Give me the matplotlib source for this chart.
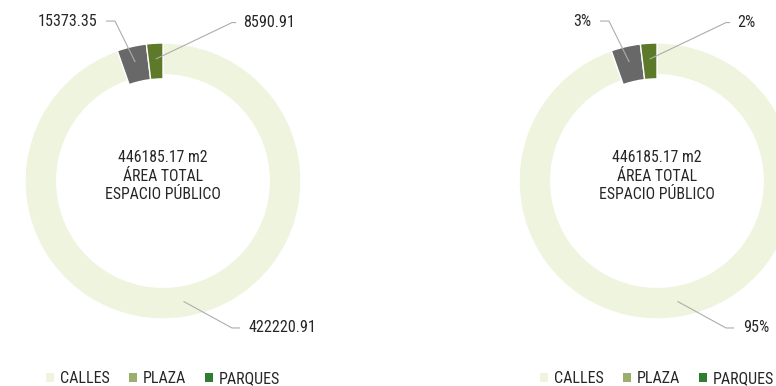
import matplotlib
matplotlib.use("Agg")
import matplotlib.pyplot as plt
from matplotlib import font_manager
from matplotlib.patches import Patch
import numpy as np

# Superficie de espacio público por tipo (m2)
categorias = ["CALLES", "PLAZA", "PARQUES"]
areas = [422220.91, 15373.35, 8590.91]
total_area = 446185.17

colores_anillo = ["#EEF4DD", "#686868", "#5C7A29"]
colores_leyenda = ["#EEF4DD", "#9BAE6B", "#2E7D32"]

TEXT_COLOR = "#262626"
LINE_COLOR = "#ADADAD"

# narrow face, first one found
_names = {f.name for f in font_manager.fontManager.ttflist}
FONT = dict(family="DejaVu Sans", stretch="condensed")
for _fam in ["Liberation Sans Narrow", "Arial Narrow", "Roboto Condensed",
             "Archivo Narrow", "PT Sans Narrow"]:
    if _fam in _names:
        FONT = dict(family=_fam)
        break

W, H = 776, 386
R_PX = 138

# leader geometry per slice, in ring radii: bend x, bend y, run end x, text x
LEADERS = [(0.50, -1.065, 0.558, 0.623),
           (-0.348, 1.159, -0.413, -0.478),
           (0.50, 1.148, 0.53, 0.58)]

fig = plt.figure(figsize=(W / 100, H / 100), dpi=100)
fig.patch.set_facecolor("white")


def donut(cx, cy, etiquetas):
    ax = fig.add_axes([(cx - R_PX) / W, (H - cy - R_PX) / H,
                       2 * R_PX / W, 2 * R_PX / H])
    wedges, _ = ax.pie(areas, colors=colores_anillo, startangle=90,
                       counterclock=False, radius=1.0,
                       wedgeprops=dict(width=0.23, edgecolor="white",
                                       linewidth=1.0))
    # small slices sit a bit deeper into the ring
    for w in wedges[1:]:
        w.set_width(0.26)
    ax.set_xlim(-1, 1)
    ax.set_ylim(-1, 1)
    ax.set_aspect("equal")
    ax.axis("off")

    for w, txt, (bx, by, ex, tx) in zip(wedges, etiquetas, LEADERS):
        ang = np.deg2rad((w.theta1 + w.theta2) / 2)
        sx, sy = 0.885 * np.cos(ang), 0.885 * np.sin(ang)
        ax.plot([sx, bx, ex], [sy, by, by], color=LINE_COLOR, lw=0.8,
                clip_on=False, solid_capstyle="butt")
        ax.text(tx, by, txt, ha="left" if tx > 0 else "right",
                va="center", fontsize=11.6, color=TEXT_COLOR, **FONT)

    ax.text(0, 0.035, f"{total_area:.2f} m2\nÁREA TOTAL\nESPACIO PÚBLICO",
            ha="center", va="center", fontsize=11.3, color=TEXT_COLOR,
            linespacing=1.3, **FONT)

    handles = [Patch(facecolor=c, edgecolor="none") for c in colores_leyenda]
    ax.legend(handles, categorias, loc="center", bbox_to_anchor=(0.5, -0.215),
              ncol=3, frameon=False, handlelength=0.5, handleheight=0.5,
              handletextpad=0.38, columnspacing=1.2,
              prop=dict(size=11.5, **FONT), labelcolor=TEXT_COLOR)
    return ax


donut(163, 181, [f"{v:.2f}" for v in areas])
pct = [f"{v / sum(areas) * 100:.0f}%" for v in areas]
donut(657, 181, pct)

fig.savefig("out.png", dpi=100, facecolor="white")
